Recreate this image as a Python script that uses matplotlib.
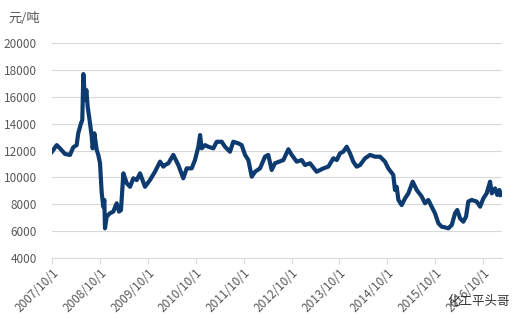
import numpy as np
import pandas as pd
import matplotlib
matplotlib.use("Agg")
import matplotlib.pyplot as plt
import matplotlib.dates as mdates

plt.rcParams['font.family'] = ['Noto Sans CJK SC', 'DejaVu Sans']

# price series (元/吨)
dates = [
    "2007-10-01", "2007-11-06", "2007-12-01", "2008-01-08", "2008-02-15", "2008-03-11",
    "2008-04-06", "2008-04-18", "2008-05-09", "2008-05-19", "2008-05-27", "2008-06-09",
    "2008-06-19", "2008-06-29", "2008-07-17", "2008-07-30", "2008-08-06", "2008-08-19",
    "2008-09-06", "2008-09-18", "2008-10-01", "2008-10-14", "2008-10-26", "2008-11-03",
    "2008-11-08", "2008-11-21", "2008-12-16", "2009-01-10", "2009-02-05", "2009-02-23",
    "2009-03-10", "2009-03-28", "2009-04-23", "2009-05-18", "2009-06-12", "2009-07-08",
    "2009-08-02", "2009-09-09", "2009-10-17", "2009-11-24", "2010-01-02", "2010-01-27",
    "2010-02-09", "2010-03-06", "2010-04-13", "2010-05-21", "2010-06-28", "2010-07-24",
    "2010-08-31", "2010-09-25", "2010-10-21", "2010-11-03", "2010-11-15", "2010-12-11",
    "2011-01-05", "2011-02-12", "2011-03-10", "2011-04-17", "2011-05-12", "2011-06-19",
    "2011-07-14", "2011-08-22", "2011-09-16", "2011-10-12", "2011-11-06", "2011-12-02",
    "2011-12-27", "2012-02-03", "2012-03-12", "2012-04-06", "2012-05-02", "2012-05-27",
    "2012-06-29", "2012-07-30", "2012-09-06", "2012-10-02", "2012-11-09", "2012-12-17",
    "2013-01-11", "2013-02-18", "2013-04-10", "2013-05-31", "2013-07-08", "2013-08-15",
    "2013-09-10", "2013-10-05", "2013-10-30", "2013-11-25", "2013-12-20", "2014-01-14",
    "2014-02-09", "2014-03-07", "2014-04-14", "2014-05-22", "2014-06-29", "2014-08-06",
    "2014-09-13", "2014-10-08", "2014-11-15", "2014-11-28", "2014-12-11", "2014-12-24",
    "2015-01-18", "2015-02-13", "2015-03-10", "2015-04-12", "2015-05-13", "2015-06-20",
    "2015-07-15", "2015-08-09", "2015-09-04", "2015-09-29", "2015-10-25", "2015-11-19",
    "2015-12-15", "2016-01-09", "2016-02-04", "2016-02-29", "2016-03-17", "2016-04-07",
    "2016-05-02", "2016-05-23", "2016-06-09", "2016-07-05", "2016-08-12", "2016-09-07",
    "2016-10-02", "2016-10-27", "2016-11-22", "2016-12-05", "2016-12-30", "2017-01-16",
    "2017-02-01", "2017-02-11",
]
prices = [
    11910, 12400, 12160, 11740, 11670, 12240,
    12400, 13280, 14020, 14270, 17690, 15760,
    16500, 15260, 14020, 13030, 12160, 13280,
    12040, 11670, 11070, 8840, 7820, 8320,
    6210, 7080, 7330, 7450, 8070, 7450,
    7570, 10300, 9560, 9300, 9930, 9800,
    10300, 9300, 9800, 10420, 11170, 10800,
    10920, 11050, 11670, 10920, 9930, 10670,
    10670, 11290, 12280, 13150, 12160, 12400,
    12280, 12160, 12650, 12650, 12280, 11910,
    12650, 12530, 12400, 11670, 11290, 10050,
    10420, 10670, 11540, 11670, 10550, 11050,
    11170, 11290, 12090, 11670, 11170, 11290,
    10920, 11050, 10420, 10670, 10800, 11420,
    11290, 11790, 11910, 12280, 11790, 11170,
    10800, 10920, 11420, 11670, 11540, 11540,
    11170, 10670, 10180, 9060, 9300, 8320,
    7940, 8440, 8810, 9680, 9060, 8570,
    8070, 8320, 7820, 7330, 6580, 6330,
    6280, 6210, 6460, 7330, 7570, 6950,
    6700, 7080, 8200, 8320, 8200, 7820,
    8440, 8810, 9680, 8810, 9180, 8690,
    9060, 8690,
]

tick_dates = [f"{y}-10-01" for y in range(2007, 2017)]
tick_labels = [f"{y}/10/1" for y in range(2007, 2017)]
y_ticks = [4000, 6000, 8000, 10000, 12000, 14000, 16000, 18000, 20000]

x = pd.to_datetime(dates)

fig = plt.figure(figsize=(5.26, 3.22), dpi=100)
ax = fig.add_axes([52 / 526, 1 - 258 / 322, 450 / 526, 215 / 322])

ax.plot(x, prices, color='#0d3b70', linewidth=3.0, solid_joinstyle='round')

ax.set_ylim(4000, 20000)
ax.set_yticks(y_ticks)
ax.set_yticklabels([str(v) for v in y_ticks], fontsize=8.5, color='#595959')
ax.set_xlim(pd.Timestamp("2007-10-01"), pd.Timestamp("2017-02-21"))
ax.set_xticks(pd.to_datetime(tick_dates))
ax.set_xticklabels(tick_labels, rotation=45, ha='right', rotation_mode='anchor',
                   fontsize=8.5, color='#595959')

ax.grid(axis='y', color='#d9d9d9', linewidth=0.8)
ax.set_axisbelow(True)
for s in ['top', 'right', 'left']:
    ax.spines[s].set_visible(False)
ax.spines['bottom'].set_color('#d9d9d9')
ax.tick_params(axis='y', length=0, pad=11)
ax.tick_params(axis='x', length=4, color='#d9d9d9', pad=2)

fig.text(8 / 526, 1 - 19 / 322, "元/吨", fontsize=9.5, color='#595959', va='center')
fig.text(447 / 526, 1 - 301 / 322, "化工平头哥", fontsize=9, color='#333333', va='center')

fig.savefig("out.png", dpi=100)
